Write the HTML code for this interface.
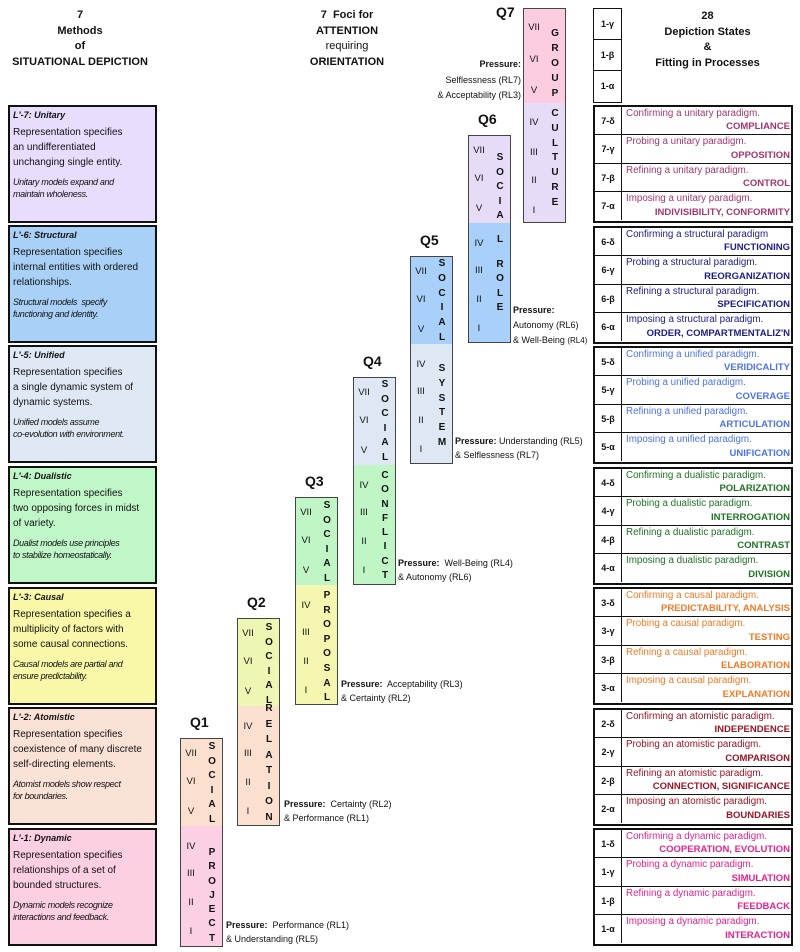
<!DOCTYPE html>
<html><head><meta charset="utf-8"><style>
*{margin:0;padding:0;box-sizing:border-box}
body{width:800px;height:952px;background:#fff;position:relative;font-family:"Liberation Sans",sans-serif;color:#111;overflow:hidden}
.a{position:absolute}
.h{position:absolute;text-align:center;font-size:11px;line-height:15.5px;font-weight:bold}
.lb{position:absolute;left:8px;width:149px;border:2px solid #111;font-size:10px;line-height:14.8px;padding-left:3px}
.lb .t{font-weight:bold;font-style:italic;font-size:9px;position:absolute;top:1px;left:3px}
.lb .b{position:absolute;top:19px;left:3px}
.lb .i{position:absolute;top:70px;left:3px;font-style:italic;font-size:9px;line-height:11.5px;letter-spacing:-0.35px}
.col{position:absolute;width:43px;border:1px solid #444;font-size:9.5px}
.col .u,.col .l{position:absolute;left:0;width:41px}
.col .u{top:0;border-bottom:1px dotted #444}
.col .l{bottom:0}
.rn{position:absolute;left:0;width:20px;text-align:center;line-height:12px}
.lt{position:absolute;left:23px;width:16px;text-align:center;font-weight:bold;font-size:10px}
.q{position:absolute;font-weight:bold;font-size:14px}
.pr{position:absolute;font-size:9px;line-height:13.5px;white-space:nowrap}
.pr b{font-weight:bold}
.rg{position:absolute;left:593px;width:200px;border:2px solid #111}
.row{height:28.25px;border-bottom:1px solid #111;position:relative}
.row:last-child{border-bottom:none}
.row .k{position:absolute;left:0;top:0;bottom:0;width:27px;border-right:1.5px solid #111;font-size:9px;font-weight:bold;text-align:center;line-height:28px}
.row .d{position:absolute;left:31px;top:0px;font-size:9.8px;line-height:13px;white-space:nowrap}
.row .e{position:absolute;right:1px;bottom:1px;font-size:9.5px;font-weight:bold;line-height:12px;white-space:nowrap}
</style></head><body>

<div class="h" style="left:0;width:160px;top:8px">7<br>Methods<br>of<br>SITUATIONAL DEPICTION</div>
<div class="h" style="left:297px;width:100px;top:8px">7&nbsp; Foci for<br>ATTENTION<br><span style="font-weight:normal">requiring</span><br>ORIENTATION</div>
<div class="h" style="left:620px;width:175px;top:9px">28<br>Depiction States<br>&amp;<br>Fitting in Processes</div>

<!-- left boxes -->
<div class="lb" style="top:105px;height:118px;background:#e8ddfc"><div class="t">L'-7: Unitary</div><div class="b">Representation specifies<br>an undifferentiated<br>unchanging single entity.</div><div class="i">Unitary models expand and<br>maintain wholeness.</div></div>
<div class="lb" style="top:225px;height:118px;background:#a9d1f7"><div class="t">L'-6: Structural</div><div class="b">Representation specifies<br>internal entities with ordered<br>relationships.</div><div class="i">Structural models&nbsp; specify<br>functioning and identity.</div></div>
<div class="lb" style="top:345px;height:118px;background:#dfe9f5"><div class="t">L'-5: Unified</div><div class="b">Representation specifies<br>a single dynamic system of<br>dynamic systems.</div><div class="i">Unified models assume<br>co-evolution with environment.</div></div>
<div class="lb" style="top:466px;height:118px;background:#bff7c8"><div class="t">L'-4: Dualistic</div><div class="b">Representation specifies<br>two opposing forces in midst<br>of variety.</div><div class="i">Dualist models use principles<br>to stabilize homeostatically.</div></div>
<div class="lb" style="top:587px;height:118px;background:#f8f8a8"><div class="t">L'-3: Causal</div><div class="b">Representation specifies a<br>multiplicity of factors with<br>some causal connections.</div><div class="i">Causal models are partial and<br>ensure predictability.</div></div>
<div class="lb" style="top:707px;height:118px;background:#fbe2d6"><div class="t">L'-2: Atomistic</div><div class="b">Representation specifies<br>coexistence of many discrete<br>self-directing elements.</div><div class="i">Atomist models show respect<br>for boundaries.</div></div>
<div class="lb" style="top:828px;height:118px;background:#fccfe2"><div class="t">L'-1: Dynamic</div><div class="b">Representation specifies<br>relationships of a set of<br>bounded structures.</div><div class="i">Dynamic models recognize<br>interactions and feedback.</div></div>

<!-- Q1 -->
<div class="q" style="left:190px;top:714px">Q1</div>
<div class="col" style="left:180px;top:738px;height:209px">
<div class="u" style="height:88px;background:#fbe0d0"></div><div class="l" style="height:120px;background:#fcd0e4"></div>
<div class="rn" style="top:9px">VII</div><div class="rn" style="top:37px">VI</div><div class="rn" style="top:67px">V</div>
<div class="rn" style="top:102px">IV</div><div class="rn" style="top:129px">III</div><div class="rn" style="top:158px">II</div><div class="rn" style="top:187px">I</div>
<div class="lt" style="top:1px;line-height:14.6px">S<br>O<br>C<br>I<br>A<br>L</div>
<div class="lt" style="top:107px;line-height:14.3px">P<br>R<br>O<br>J<br>E<br>C<br>T</div>
</div>
<div class="pr" style="left:226px;top:919px"><b>Pressure:</b>&nbsp; Performance (RL1)<br>&amp; Understanding (RL5)</div>

<!-- Q2 -->
<div class="q" style="left:247px;top:594px">Q2</div>
<div class="col" style="left:237px;top:618px;height:208px">
<div class="u" style="height:88px;background:#edf6b2"></div><div class="l" style="height:119px;background:#fbe0d0"></div>
<div class="rn" style="top:9px">VII</div><div class="rn" style="top:37px">VI</div><div class="rn" style="top:67px">V</div>
<div class="rn" style="top:102px">IV</div><div class="rn" style="top:129px">III</div><div class="rn" style="top:158px">II</div><div class="rn" style="top:187px">I</div>
<div class="lt" style="top:2px;line-height:14.6px">S<br>O<br>C<br>I<br>A<br>L</div>
<div class="lt" style="top:82px;line-height:15.5px">R<br>E<br>L<br>A<br>T<br>I<br>O<br>N</div>
</div>
<div class="pr" style="left:284px;top:798px"><b>Pressure:</b>&nbsp; Certainty (RL2)<br>&amp; Performance (RL1)</div>

<!-- Q3 -->
<div class="q" style="left:305px;top:473px">Q3</div>
<div class="col" style="left:295px;top:497px;height:208px">
<div class="u" style="height:88px;background:#c0f6c6"></div><div class="l" style="height:119px;background:#f5f7b0"></div>
<div class="rn" style="top:9px">VII</div><div class="rn" style="top:37px">VI</div><div class="rn" style="top:67px">V</div>
<div class="rn" style="top:102px">IV</div><div class="rn" style="top:129px">III</div><div class="rn" style="top:158px">II</div><div class="rn" style="top:187px">I</div>
<div class="lt" style="top:1px;line-height:14.6px">S<br>O<br>C<br>I<br>A<br>L</div>
<div class="lt" style="top:91px;line-height:14.6px">P<br>R<br>O<br>P<br>O<br>S<br>A<br>L</div>
</div>
<div class="pr" style="left:341px;top:678px"><b>Pressure:</b>&nbsp; Acceptability (RL3)<br>&amp; Certainty (RL2)</div>

<!-- Q4 -->
<div class="q" style="left:363px;top:353px">Q4</div>
<div class="col" style="left:353px;top:377px;height:208px">
<div class="u" style="height:88px;background:#dde8f4"></div><div class="l" style="height:119px;background:#c0f6c6"></div>
<div class="rn" style="top:9px">VII</div><div class="rn" style="top:37px">VI</div><div class="rn" style="top:67px">V</div>
<div class="rn" style="top:102px">IV</div><div class="rn" style="top:129px">III</div><div class="rn" style="top:158px">II</div><div class="rn" style="top:187px">I</div>
<div class="lt" style="top:0px;line-height:14.6px">S<br>O<br>C<br>I<br>A<br>L</div>
<div class="lt" style="top:91px;line-height:14.3px">C<br>O<br>N<br>F<br>L<br>I<br>C<br>T</div>
</div>
<div class="pr" style="left:398px;top:557px"><b>Pressure:</b>&nbsp; Well-Being (RL4)<br>&amp; Autonomy (RL6)</div>

<!-- Q5 -->
<div class="q" style="left:420px;top:232px">Q5</div>
<div class="col" style="left:410px;top:256px;height:208px">
<div class="u" style="height:88px;background:#a8d0f8"></div><div class="l" style="height:119px;background:#dde8f4"></div>
<div class="rn" style="top:9px">VII</div><div class="rn" style="top:37px">VI</div><div class="rn" style="top:67px">V</div>
<div class="rn" style="top:102px">IV</div><div class="rn" style="top:129px">III</div><div class="rn" style="top:158px">II</div><div class="rn" style="top:187px">I</div>
<div class="lt" style="top:0px;line-height:14.8px">S<br>O<br>C<br>I<br>A<br>L</div>
<div class="lt" style="top:105px;line-height:14.8px">S<br>Y<br>S<br>T<br>E<br>M</div>
</div>
<div class="pr" style="left:455px;top:435px"><b>Pressure:</b> Understanding (RL5)<br>&amp; Selflessness (RL7)</div>

<!-- Q6 -->
<div class="q" style="left:478px;top:111px">Q6</div>
<div class="col" style="left:468px;top:135px;height:208px">
<div class="u" style="height:88px;background:#e6dcf8"></div><div class="l" style="height:119px;background:#a8d0f8"></div>
<div class="rn" style="top:9px">VII</div><div class="rn" style="top:37px">VI</div><div class="rn" style="top:67px">V</div>
<div class="rn" style="top:102px">IV</div><div class="rn" style="top:129px">III</div><div class="rn" style="top:158px">II</div><div class="rn" style="top:187px">I</div>
<div class="lt" style="top:15px;line-height:14.6px">S<br>O<br>C<br>I<br>A</div>
<div class="lt" style="top:97px;line-height:14.6px">L</div>
<div class="lt" style="top:122px;line-height:14.3px">R<br>O<br>L<br>E</div>
</div>
<div class="pr" style="left:513px;top:303px;line-height:15px"><b>Pressure:</b><br>Autonomy (RL6)<br>&amp; Well-Being <span style="font-size:8px">(RL4)</span></div>

<!-- Q7 -->
<div class="q" style="left:496px;top:4px">Q7</div>
<div class="col" style="left:523px;top:8px;height:215px">
<div class="u" style="height:95px;background:#fccce0"></div><div class="l" style="height:119px;background:#e6dcf8"></div>
<div class="rn" style="top:13px">VII</div><div class="rn" style="top:45px">VI</div><div class="rn" style="top:76px">V</div>
<div class="rn" style="top:108px">IV</div><div class="rn" style="top:138px">III</div><div class="rn" style="top:166px">II</div><div class="rn" style="top:196px">I</div>
<div class="lt" style="top:17px;line-height:15px">G<br>R<br>O<br>U<br>P</div>
<div class="lt" style="top:98px;line-height:14.8px">C<br>U<br>L<br>T<br>U<br>R<br>E</div>
</div>
<div class="pr" style="left:420px;width:101px;text-align:right;top:57px;line-height:15.5px"><b>Pressure:</b><br>Selflessness (RL7)<br>&amp; Acceptability (RL3)</div>

<!-- top small box -->
<div class="a" style="left:593px;top:8px;width:29px;height:95px;border:1.5px solid #111;font-size:9px;font-weight:bold;text-align:center">
<div style="height:31px;line-height:31px;border-bottom:1px solid #111">1-γ</div>
<div style="height:31px;line-height:31px;border-bottom:1px solid #111">1-β</div>
<div style="height:30px;line-height:30px">1-α</div>
</div>

<!-- right groups -->
<div class="rg" style="top:105px;height:118px;color:#a33572">
<div class="row"><div class="k" style="color:#111">7-δ</div><div class="d">Confirming a unitary paradigm.</div><div class="e">COMPLIANCE</div></div>
<div class="row"><div class="k" style="color:#111">7-γ</div><div class="d">Probing a unitary paradigm.</div><div class="e">OPPOSITION</div></div>
<div class="row"><div class="k" style="color:#111">7-β</div><div class="d">Refining a unitary paradigm.</div><div class="e">CONTROL</div></div>
<div class="row"><div class="k" style="color:#111">7-α</div><div class="d">Imposing a unitary paradigm.</div><div class="e">INDIVISIBILITY, CONFORMITY</div></div>
</div>
<div class="rg" style="top:226px;height:118px;color:#1c1c8c">
<div class="row"><div class="k" style="color:#111">6-δ</div><div class="d">Confirming a structural paradigm</div><div class="e">FUNCTIONING</div></div>
<div class="row"><div class="k" style="color:#111">6-γ</div><div class="d">Probing a structural paradigm.</div><div class="e">REORGANIZATION</div></div>
<div class="row"><div class="k" style="color:#111">6-β</div><div class="d">Refining a structural paradigm.</div><div class="e">SPECIFICATION</div></div>
<div class="row"><div class="k" style="color:#111">6-α</div><div class="d">Imposing a structural paradigm.</div><div class="e">ORDER, COMPARTMENTALIZ'N</div></div>
</div>
<div class="rg" style="top:346px;height:118px;color:#4a72f0">
<div class="row"><div class="k" style="color:#111">5-δ</div><div class="d">Confirming a unified paradigm.</div><div class="e">VERIDICALITY</div></div>
<div class="row"><div class="k" style="color:#111">5-γ</div><div class="d">Probing a unified paradigm.</div><div class="e">COVERAGE</div></div>
<div class="row"><div class="k" style="color:#111">5-β</div><div class="d">Refining a unified paradigm.</div><div class="e">ARTICULATION</div></div>
<div class="row"><div class="k" style="color:#111">5-α</div><div class="d">Imposing a unified paradigm.</div><div class="e">UNIFICATION</div></div>
</div>
<div class="rg" style="top:467px;height:118px;color:#1f7424">
<div class="row"><div class="k" style="color:#111">4-δ</div><div class="d">Confirming a dualistic paradigm.</div><div class="e">POLARIZATION</div></div>
<div class="row"><div class="k" style="color:#111">4-γ</div><div class="d">Probing a dualistic paradigm.</div><div class="e">INTERROGATION</div></div>
<div class="row"><div class="k" style="color:#111">4-β</div><div class="d">Refining a dualistic paradigm.</div><div class="e">CONTRAST</div></div>
<div class="row"><div class="k" style="color:#111">4-α</div><div class="d">Imposing a dualistic paradigm.</div><div class="e">DIVISION</div></div>
</div>
<div class="rg" style="top:587px;height:118px;color:#f37a26">
<div class="row"><div class="k" style="color:#111">3-δ</div><div class="d">Confirming a causal paradigm.</div><div class="e">PREDICTABILITY, ANALYSIS</div></div>
<div class="row"><div class="k" style="color:#111">3-γ</div><div class="d">Probing a causal paradigm.</div><div class="e">TESTING</div></div>
<div class="row"><div class="k" style="color:#111">3-β</div><div class="d">Refining a causal paradigm.</div><div class="e">ELABORATION</div></div>
<div class="row"><div class="k" style="color:#111">3-α</div><div class="d">Imposing a causal paradigm.</div><div class="e">EXPLANATION</div></div>
</div>
<div class="rg" style="top:708px;height:118px;color:#9a1424">
<div class="row"><div class="k" style="color:#111">2-δ</div><div class="d">Confirming an atomistic paradigm.</div><div class="e">INDEPENDENCE</div></div>
<div class="row"><div class="k" style="color:#111">2-γ</div><div class="d">Probing an atomistic paradigm.</div><div class="e">COMPARISON</div></div>
<div class="row"><div class="k" style="color:#111">2-β</div><div class="d">Refining an atomistic paradigm.</div><div class="e">CONNECTION, SIGNIFICANCE</div></div>
<div class="row"><div class="k" style="color:#111">2-α</div><div class="d">Imposing an atomistic paradigm.</div><div class="e">BOUNDARIES</div></div>
</div>
<div class="rg" style="top:828px;height:118px;color:#e6228e">
<div class="row"><div class="k" style="color:#111">1-δ</div><div class="d">Confirming a dynamic paradigm.</div><div class="e">COOPERATION, EVOLUTION</div></div>
<div class="row"><div class="k" style="color:#111">1-γ</div><div class="d">Probing a dynamic paradigm.</div><div class="e">SIMULATION</div></div>
<div class="row"><div class="k" style="color:#111">1-β</div><div class="d">Refining a dynamic paradigm.</div><div class="e">FEEDBACK</div></div>
<div class="row"><div class="k" style="color:#111">1-α</div><div class="d">Imposing a dynamic paradigm.</div><div class="e">INTERACTION</div></div>
</div>

</body></html>
